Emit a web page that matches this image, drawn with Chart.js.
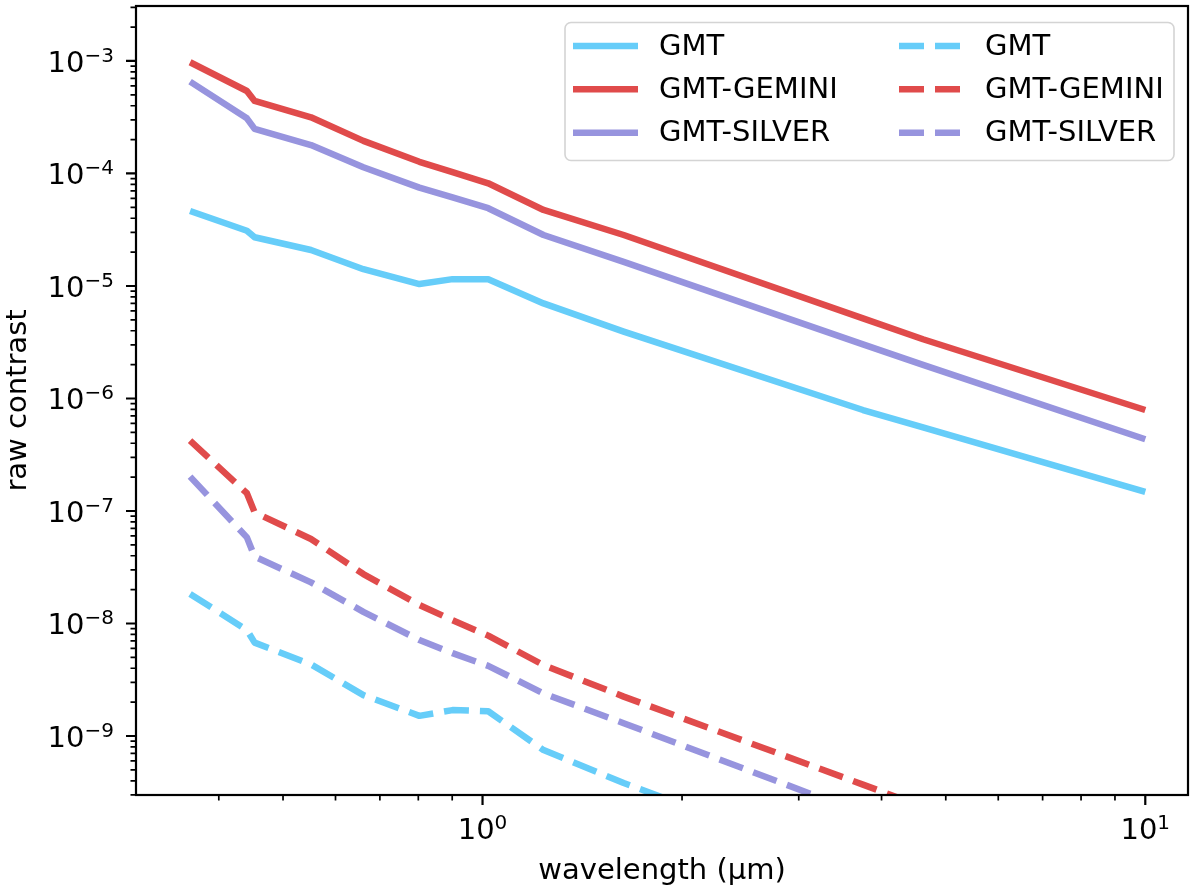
<!DOCTYPE html>
<html>
<head>
<meta charset="utf-8">
<script src="https://cdn.jsdelivr.net/npm/chart.js@4.4.0/dist/chart.umd.min.js"></script>
<style>
html,body{margin:0;padding:0;background:#fff;}
#wrap{width:1200px;height:895px;position:relative;}
</style>
</head>
<body>
<div id="wrap"><canvas id="c" width="1200" height="895"></canvas></div>
<script>
// ---- data ----
const wavelengths = [0.362, 0.441, 0.453, 0.551, 0.661, 0.803, 0.901, 1.02, 1.236, 1.633, 3.75, 4.62, 10];

const gmtSolid     = [4.64e-5, 3.10e-5, 2.71e-5, 2.09e-5, 1.41e-5, 1.04e-5, 1.15e-5, 1.15e-5, 7.0e-6, 3.93e-6, 7.9e-7, 5.55e-7, 1.48e-7];
const geminiSolid  = [9.74e-4, 5.41e-4, 4.41e-4, 3.16e-4, 1.95e-4, 1.27e-4, 1.03e-4, 8.18e-5, 4.74e-5, 2.84e-5, 5.16e-6, 3.36e-6, 7.9e-7];
const silverSolid  = [6.55e-4, 3.09e-4, 2.49e-4, 1.79e-4, 1.135e-4, 7.48e-5, 6.12e-5, 4.91e-5, 2.84e-5, 1.64e-5, 3.03e-6, 1.99e-6, 4.34e-7];

const gmtDashed    = [1.83e-8, 8.75e-9, 6.76e-9, 4.33e-9, 2.31e-9, 1.51e-9, 1.70e-9, 1.66e-9, 7.5e-10, 3.82e-10, 6.3e-11, 4.5e-11, 1.0e-11];
const geminiDashed = [4.22e-7, 1.44e-7, 9.73e-8, 5.64e-8, 2.75e-8, 1.46e-8, 1.07e-8, 7.8e-9, 4.27e-9, 2.24e-9, 3.7e-10, 2.34e-10, 5.0e-11];
const silverDashed = [2.02e-7, 5.83e-8, 3.93e-8, 2.32e-8, 1.27e-8, 7.13e-9, 5.45e-9, 4.2e-9, 2.39e-9, 1.30e-9, 2.04e-10, 1.32e-10, 3.2e-11];

const seriesLabels = ['GMT', 'GMT-GEMINI', 'GMT-SILVER'];

const xMajorTicks = [1, 10];
const yMajorTicks = [1e-9, 1e-8, 1e-7, 1e-6, 1e-5, 1e-4, 1e-3];
const xRange = [0.309, 11.6];
const yRange = [2.99e-10, 3.08e-3];

const xTitle = 'wavelength (μm)';
const yTitle = 'raw contrast';

// ---- styles ----
const COLORS = ['#66cdf9', '#e04b4b', '#9794de'];
const LW = 6.5;
const DASH = [25, 11];
const FONT = 'DejaVu Sans';
const FS = 29;       // main font size
const SUPFS = 20;    // superscript size

function expText(v) {
  return String(Math.round(Math.log10(v))).replace('-', '\u2212');
}
function pts(ys) { return wavelengths.map((x, i) => ({x: x, y: ys[i]})); }

const datasets = [
  {label: seriesLabels[0], data: pts(gmtSolid),     borderColor: COLORS[0], borderDash: []},
  {label: seriesLabels[1], data: pts(geminiSolid),  borderColor: COLORS[1], borderDash: []},
  {label: seriesLabels[2], data: pts(silverSolid),  borderColor: COLORS[2], borderDash: []},
  {label: seriesLabels[0], data: pts(gmtDashed),    borderColor: COLORS[0], borderDash: DASH},
  {label: seriesLabels[1], data: pts(geminiDashed), borderColor: COLORS[1], borderDash: DASH},
  {label: seriesLabels[2], data: pts(silverDashed), borderColor: COLORS[2], borderDash: DASH}
].map(d => Object.assign(d, {
  borderWidth: LW, pointRadius: 0, tension: 0, fill: false, clip: 0,
  borderJoinStyle: 'round', borderCapStyle: 'butt'
}));

function minorTicks(lo, hi) {
  const out = [];
  for (let e = Math.floor(Math.log10(lo)); e <= Math.ceil(Math.log10(hi)); e++) {
    for (let m = 2; m <= 9; m++) {
      const v = m * Math.pow(10, e);
      if (v >= lo && v <= hi) out.push(v);
    }
  }
  return out;
}

const axesPlugin = {
  id: 'mplAxes',
  afterDraw(chart) {
    const {ctx, chartArea: a} = chart;
    const xs = chart.scales.x, ys = chart.scales.y;
    ctx.save();
    ctx.strokeStyle = '#000';
    ctx.lineCap = 'butt';
    function xt(vals, len, w) {
      ctx.lineWidth = w; ctx.beginPath();
      vals.forEach(v => { const p = xs.getPixelForValue(v); if (p < a.left - 0.5 || p > a.right + 0.5) return; ctx.moveTo(p, a.bottom); ctx.lineTo(p, a.bottom + len); });
      ctx.stroke();
    }
    function yt(vals, len, w) {
      ctx.lineWidth = w; ctx.beginPath();
      vals.forEach(v => { const p = ys.getPixelForValue(v); if (p < a.top - 0.5 || p > a.bottom + 0.5) return; ctx.moveTo(a.left, p); ctx.lineTo(a.left - len, p); });
      ctx.stroke();
    }
    xt(minorTicks(xRange[0], xRange[1]), 5.5, 1.7);
    xt(xMajorTicks, 10, 2.2);
    yt(minorTicks(yRange[0], yRange[1]), 5.5, 1.7);
    yt(yMajorTicks, 10, 2.2);
    ctx.lineWidth = 2.2;
    ctx.strokeRect(a.left, a.top, a.right - a.left, a.bottom - a.top);

    // tick labels in mathtext style: "10" with raised exponent
    ctx.fillStyle = '#000';
    ctx.textBaseline = 'alphabetic';
    ctx.textAlign = 'left';
    const mainFont = FS + 'px "' + FONT + '"';
    const supFont = SUPFS + 'px "' + FONT + '"';
    function label(v) {
      ctx.font = mainFont; const w1 = ctx.measureText('10').width;
      ctx.font = supFont; const e = expText(v); const w2 = ctx.measureText(e).width;
      return {w1, w2, e};
    }
    function drawLabel(x0, base, L) {
      ctx.font = mainFont; ctx.fillText('10', x0, base);
      ctx.font = supFont; ctx.fillText(L.e, x0 + L.w1, base - 10);
    }
    xMajorTicks.forEach(v => {
      const p = xs.getPixelForValue(v);
      const L = label(v);
      drawLabel(p - (L.w1 + L.w2) / 2, a.bottom + 44, L);
    });
    yMajorTicks.forEach(v => {
      const p = ys.getPixelForValue(v);
      const L = label(v);
      drawLabel(a.left - 22 - (L.w1 + L.w2), p + 10.7, L);
    });
    ctx.restore();
  }
};

const legendPlugin = {
  id: 'twoColLegend',
  afterDatasetsDraw(chart) {
    const {ctx, chartArea: a} = chart;
    const ds = chart.data.datasets;
    const w = 609, h = 138;
    const right = a.right - 14, top = a.top + 16.5;
    const left = right - w;
    ctx.save();
    ctx.beginPath();
    ctx.roundRect(left, top, w, h, 6);
    ctx.fillStyle = 'rgba(255,255,255,0.85)';
    ctx.fill();
    ctx.lineWidth = 1.6;
    ctx.strokeStyle = '#d4d4d4';
    ctx.stroke();
    const colX = [left + 8, left + 334];
    const rowY = [top + 23.5, top + 66.8, top + 110.3];
    const handleLen = 65;
    ctx.font = FS + 'px "' + FONT + '"';
    ctx.textBaseline = 'middle';
    ctx.textAlign = 'left';
    ds.forEach((d, i) => {
      const cx = colX[Math.floor(i / 3)], cy = rowY[i % 3];
      ctx.beginPath();
      ctx.setLineDash(d.borderDash || []);
      ctx.lineWidth = d.borderWidth;
      ctx.strokeStyle = d.borderColor;
      ctx.lineCap = 'butt';
      ctx.moveTo(cx, cy); ctx.lineTo(cx + handleLen, cy);
      ctx.stroke();
      ctx.setLineDash([]);
      ctx.fillStyle = '#000';
      ctx.fillText(d.label, cx + handleLen + 21, cy + 1);
    });
    ctx.restore();
  }
};

new Chart(document.getElementById('c'), {
  type: 'line',
  data: {datasets: datasets},
  plugins: [legendPlugin, axesPlugin],
  options: {
    responsive: false,
    animation: false,
    devicePixelRatio: 1,
    layout: {padding: {top: 6, right: 12, left: 0, bottom: 0}},
    plugins: {legend: {display: false}, tooltip: {enabled: false}},
    scales: {
      x: {
        type: 'logarithmic', min: xRange[0], max: xRange[1],
        afterBuildTicks: s => { s.ticks = xMajorTicks.map(v => ({value: v})); },
        afterFit: s => { s.height = 100; s.paddingLeft = 0; s.paddingRight = 0; },
        grid: {display: false, drawTicks: false, tickLength: 0},
        border: {display: false},
        ticks: {display: false},
        title: {display: true, text: xTitle, font: {family: FONT, size: FS}, color: '#000', padding: {top: 0, bottom: 6}}
      },
      y: {
        type: 'logarithmic', min: yRange[0], max: yRange[1],
        afterBuildTicks: s => { s.ticks = yMajorTicks.map(v => ({value: v})); },
        afterFit: s => { s.width = 136; s.paddingTop = 0; s.paddingBottom = 0; },
        grid: {display: false, drawTicks: false, tickLength: 0},
        border: {display: false},
        ticks: {display: false},
        title: {display: true, text: yTitle, font: {family: FONT, size: FS}, color: '#000', padding: {top: 1, bottom: 0}}
      }
    }
  }
});
</script>
</body>
</html>
